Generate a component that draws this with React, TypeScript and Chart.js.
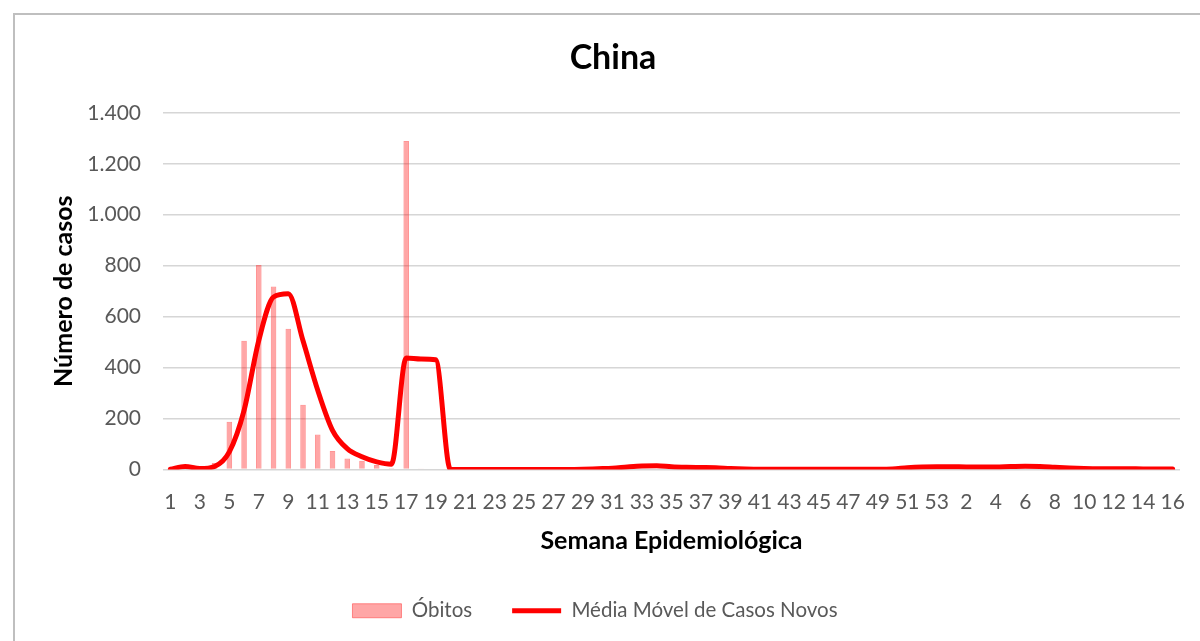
import React, { useEffect, useRef } from "react";
import { Chart, registerables } from "chart.js";

Chart.register(...registerables);

const weekLabels: string[] = [
  "1","2","3","4","5","6","7","8","9","10","11","12","13","14","15","16","17","18","19","20",
  "21","22","23","24","25","26","27","28","29","30","31","32","33","34","35","36","37","38","39","40",
  "41","42","43","44","45","46","47","48","49","50","51","52","53",
  "1","2","3","4","5","6","7","8","9","10","11","12","13","14","15","16",
];

const deaths: number[] = [
  0, 0, 0, 26, 187, 505, 803, 718, 552, 254, 137, 73, 43, 34, 18, 5, 1289, 4, 0, 0,
  0, 0, 0, 0, 0, 0, 0, 0, 0, 0, 0, 0, 0, 0, 0, 0, 0, 0, 0, 0,
  0, 0, 0, 0, 0, 0, 0, 0, 0, 0, 0, 0, 0,
  0, 0, 0, 0, 0, 0, 0, 0, 0, 0, 0, 0, 0, 0, 0, 0,
];

const movingAvgCases: number[] = [
  1, 12, 4, 12, 69, 232, 507, 677, 690, 505, 311, 154, 82, 50, 30, 21, 438, 434, 431, 0,
  0, 0, 0, 0, 0, 0, 0, 0, 1, 3, 5, 10, 14, 15, 11, 9, 8, 7, 4, 2,
  1, 1, 1, 1, 1, 1, 1, 1, 1, 2, 7, 10, 11,
  11, 10, 10, 10, 12, 13, 12, 9, 6, 4, 3, 3, 3, 2, 2, 2,
];

const yTickValues: number[] = [0, 200, 400, 600, 800, 1000, 1200, 1400];

const titleText = "China";
const xTitle = "Semana Epidemiológica";
const yTitle = "Número de casos";
const deathsLabel = "Óbitos";
const lineLabel = "Média Móvel de Casos Novos";

const FONT = "Lato, 'Open Sans', sans-serif";
const fmt = (v: number) => String(v).replace(/\B(?=(\d{3})+(?!\d))/g, ".");

const titleShift = {
  id: "titleShift",
  afterLayout(c: any) {
    const t = c.titleBlock;
    if (t) {
      t.left += 18;
      t.right += 18;
    }
  },
};

export default function App() {
  const ref = useRef<HTMLCanvasElement | null>(null);
  useEffect(() => {
    if (!ref.current) return;
    const chart = new Chart(ref.current, {
      type: "bar",
      data: {
        labels: weekLabels,
        datasets: [
          {
            type: "line",
            label: lineLabel,
            data: movingAvgCases,
            borderColor: "#FF0000",
            backgroundColor: "#FF0000",
            borderWidth: 5,
            pointRadius: 0,
            pointStyle: "line",
            cubicInterpolationMode: "monotone",
            borderCapStyle: "round",
            borderJoinStyle: "round",
          } as any,
          {
            type: "bar",
            label: deathsLabel,
            data: deaths,
            backgroundColor: "rgba(255,0,0,0.35)",
            borderColor: "rgba(255,60,60,0.55)",
            borderWidth: 1,
            pointStyle: "rect",
            categoryPercentage: 1,
            barPercentage: 0.38,
          } as any,
        ],
      },
      options: {
        responsive: false,
        animation: false,
        layout: { padding: { left: 10, right: 20, top: 0, bottom: 10 } },
        plugins: {
          tooltip: { enabled: false },
          title: {
            display: true,
            text: titleText,
            color: "#000000",
            font: { family: FONT, size: 34, weight: "bold" },
            padding: { top: 38, bottom: 34 },
          },
          legend: {
            position: "bottom",
            labels: {
              usePointStyle: true,
              pointStyleWidth: 49,
              boxHeight: 14,
              color: "#595959",
              font: { family: FONT, size: 20.5 },
              padding: 40,
              sort: (a: any, b: any) => b.datasetIndex - a.datasetIndex,
            },
          },
        },
        scales: {
          x: {
            grid: { display: false },
            border: { display: false },
            afterFit: (s: any) => { s.height = 91; },
            ticks: {
              autoSkip: false,
              maxRotation: 0,
              minRotation: 0,
              color: "#595959",
              font: { family: FONT, size: 21 },
              padding: 12,
              callback: (_v: any, i: number) => (i % 2 === 0 ? weekLabels[i] : ""),
            },
            title: {
              display: true,
              text: xTitle,
              color: "#000000",
              font: { family: FONT, size: 25, weight: "bold" },
              padding: { top: 0, bottom: 5 },
            },
          },
          y: {
            min: 0,
            max: 1400,
            afterFit: (s: any) => { s.width = 153; },
            afterBuildTicks: (s: any) => { s.ticks = yTickValues.map((v) => ({ value: v })); },
            border: { display: false },
            grid: { color: "#d6d6d6", lineWidth: 1.5, drawTicks: false },
            ticks: {
              color: "#595959",
              font: { family: FONT, size: 21 },
              padding: 22,
              callback: (v: any) => fmt(Number(v)),
            },
            title: {
              display: true,
              text: yTitle,
              color: "#000000",
              font: { family: FONT, size: 25, weight: "bold" },
              padding: { top: 39, bottom: 0 },
            },
          },
        },
      },
      plugins: [titleShift],
    });
    return () => chart.destroy();
  }, []);

  return (
    <div>
      <div
        style={{
          position: "fixed",
          left: 13,
          top: 13,
          width: 1250,
          height: 700,
          border: "2px solid #bfbfbf",
          background: "#ffffff",
        }}
      />
      <canvas
        ref={ref}
        width={1200}
        height={641}
        style={{ position: "fixed", left: 0, top: 0, width: 1200, height: 641 }}
      />
    </div>
  );
}
